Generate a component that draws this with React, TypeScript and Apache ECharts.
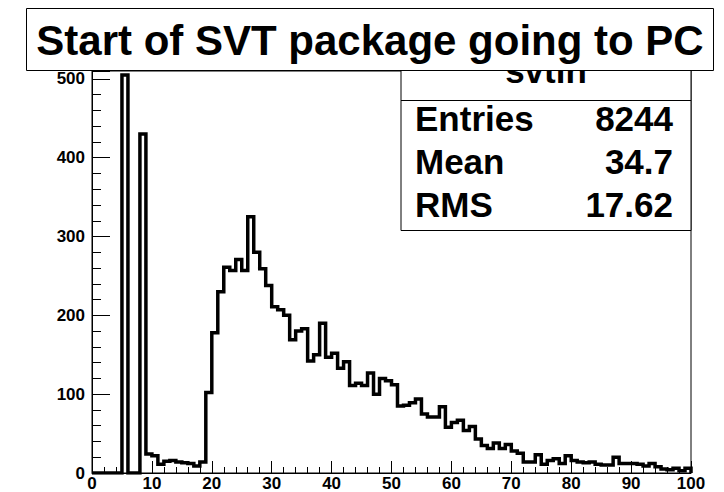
import React, { useEffect, useRef } from "react";
import * as echarts from "echarts";

// Histogram "svtin": 100 bins of width 1 from 0 to 100
const binLow = 0;
const binWidth = 1;
const binValues = [
  0, 0, 0, 0, 0, 505, 0, 0, 430, 24,
  22, 11, 15, 16, 14, 13, 12, 9, 14, 102,
  178, 230, 261, 257, 271, 257, 325, 280, 259, 238,
  211, 207, 200, 169, 180, 183, 142, 150, 190, 147,
  152, 133, 141, 111, 114, 111, 127, 100, 120, 117,
  112, 85, 86, 89, 94, 75, 71, 71, 84, 58,
  64, 67, 54, 59, 43, 35, 31, 38, 31, 36,
  28, 25, 14, 14, 23, 11, 16, 18, 12, 22,
  16, 14, 13, 14, 11, 10, 10, 20, 12, 12,
  12, 11, 9, 12, 8, 5, 4, 6, 3, 6,
];

const titleText = "Start of SVT package going to PC";
const statsName = "svtin";
const statsLabels = ["Entries", "Mean", "RMS"];
const statsValues = ["8244", "34.7", "17.62"];

const xMin = 0;
const xMax = 100;
const xInterval = 10;
const yMin = 0;
const yMax = 510;
const yInterval = 100;

export default function App() {
  const ref = useRef<HTMLDivElement>(null);
  useEffect(() => {
    if (!ref.current) return;
    const chart = echarts.init(ref.current, null, { renderer: "svg" });

    const stepData: number[][] = [];
    binValues.forEach((v, i) => {
      const x0 = binLow + i * binWidth;
      stepData.push([x0, v]);
      stepData.push([x0 + binWidth, v]);
    });
    stepData.push([binLow + binValues.length * binWidth, 0]);

    const font = "'Liberation Sans', Arial, Helvetica, sans-serif";
    const statsRowY = [118, 161, 204];

    const graphic: any[] = [
      {
        type: "rect",
        z: 10,
        shape: { x: 401, y: 40, width: 290, height: 190.5 },
        style: { fill: "#fff", stroke: "#000", lineWidth: 1 },
      },
      {
        type: "line",
        z: 11,
        shape: { x1: 401, y1: 100.5, x2: 691, y2: 100.5 },
        style: { stroke: "#000", lineWidth: 1 },
      },
      {
        type: "text",
        z: 11,
        x: 546,
        y: 88,
        style: {
          text: statsName,
          font: `bold 35px ${font}`,
          fill: "#000",
          textAlign: "center",
          textVerticalAlign: "bottom",
        },
      },
      {
        type: "rect",
        z: 20,
        shape: { x: 26.5, y: 8.5, width: 687, height: 62 },
        style: { fill: "#fff", stroke: "#000", lineWidth: 1 },
      },
      {
        type: "text",
        z: 21,
        x: 370,
        y: 40,
        style: {
          text: titleText,
          font: `bold 42px ${font}`,
          fill: "#000",
          textAlign: "center",
          textVerticalAlign: "middle",
        },
      },
    ];
    statsLabels.forEach((lab, i) => {
      graphic.push({
        type: "text",
        z: 11,
        x: 415,
        y: statsRowY[i],
        style: {
          text: lab,
          font: `bold 35px ${font}`,
          fill: "#000",
          textAlign: "left",
          textVerticalAlign: "middle",
        },
      });
      graphic.push({
        type: "text",
        z: 11,
        x: 673,
        y: statsRowY[i],
        style: {
          text: statsValues[i],
          font: `bold 35px ${font}`,
          fill: "#000",
          textAlign: "right",
          textVerticalAlign: "middle",
        },
      });
    });

    chart.setOption({
      animation: false,
      backgroundColor: "#fff",
      grid: {
        left: 92,
        right: 33,
        top: 71,
        bottom: 16,
        show: true,
        borderColor: "#000",
        borderWidth: 1,
        backgroundColor: "transparent",
      },
      xAxis: {
        type: "value",
        min: xMin,
        max: xMax,
        interval: xInterval,
        axisLine: { show: true, onZero: false, lineStyle: { color: "#000", width: 1 } },
        axisTick: { show: true, inside: true, length: 12, lineStyle: { color: "#000", width: 1 } },
        minorTick: { show: true, splitNumber: 5, length: 6, lineStyle: { color: "#000", width: 1 } },
        splitLine: { show: false },
        axisLabel: {
          color: "#000",
          fontWeight: "bold",
          fontSize: 17,
          fontFamily: font,
          margin: 2,
        },
      },
      yAxis: {
        type: "value",
        min: yMin,
        max: yMax,
        interval: yInterval,
        axisLine: { show: true, lineStyle: { color: "#000", width: 1 } },
        axisTick: { show: true, inside: true, length: 18, lineStyle: { color: "#000", width: 1 } },
        minorTick: { show: true, splitNumber: 5, length: 9, lineStyle: { color: "#000", width: 1 } },
        splitLine: { show: false },
        axisLabel: {
          color: "#000",
          fontWeight: "bold",
          fontSize: 17,
          fontFamily: font,
          margin: 7,
          showMaxLabel: false,
          formatter: (v: number) => (v % yInterval === 0 ? String(v) : ""),
        },
      },
      series: [
        {
          type: "line",
          data: stepData,
          symbol: "none",
          lineStyle: { color: "#000", width: 3.5, join: "miter", cap: "butt" },
          silent: true,
          clip: true,
        },
      ],
      graphic,
    });
    return () => chart.dispose();
  }, []);
  return (
    <div
      ref={ref}
      style={{ position: "fixed", left: 0, top: 0, width: 724, height: 492, background: "#fff" }}
    />
  );
}
